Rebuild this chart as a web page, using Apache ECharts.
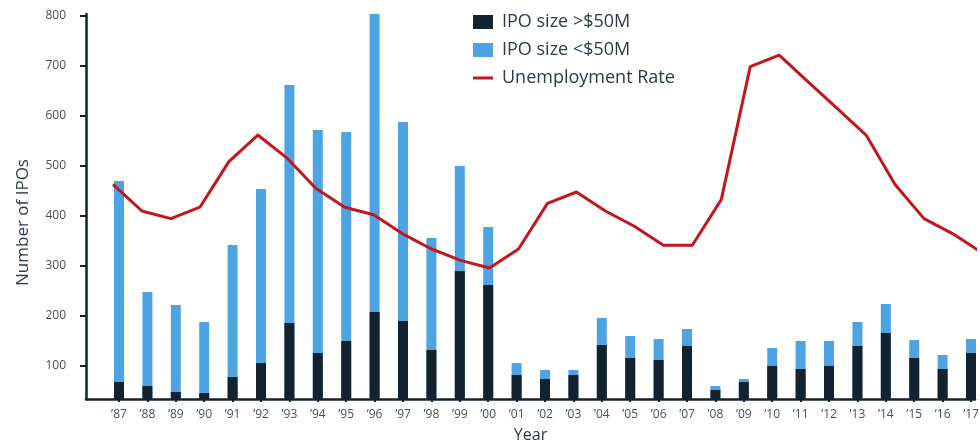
<!DOCTYPE html>
<html>
<head>
<meta charset="utf-8">
<script src="https://cdn.jsdelivr.net/npm/echarts@6/dist/echarts.min.js"></script>
<style>
  html, body { margin: 0; padding: 0; background: #fff; }
  #chart { width: 980px; height: 441px; }
</style>
</head>
<body>
<div id="chart"></div>
<script>
// ── IPO count vs unemployment ────────────────────────────────────────────────
const years      = ['’87','’88','’89','’90','’91','’92','’93','’94','’95','’96','’97','’98','’99','’00','’01',
                    '’02','’03','’04','’05','’06','’07','’08','’09','’10','’11','’12','’13','’14','’15','’16','’17'];
// >$50M IPOs (dark part of each bar)
const ipoLarge   = [68, 60, 48, 46, 78, 106, 186, 126, 150, 208, 190, 132, 290, 262, 82,
                    74, 82, 142, 116, 112, 140, 52, 68, 100, 94, 100, 140, 166, 116, 94, 126];
// top of each bar = all IPOs (the light part is what sticks out above the dark one)
const ipoTotal   = [470, 248, 222, 188, 342, 454, 662, 572, 568, 804, 588, 356, 500, 378, 106,
                    92, 92, 196, 160, 154, 174, 60, 74, 136, 150, 150, 188, 224, 152, 122, 154];
const unemployment = [6.2, 5.5, 5.3, 5.6, 6.8, 7.5, 6.9, 6.1, 5.6, 5.4, 4.9, 4.5, 4.2, 4.0, 4.5,
                      5.7, 6.0, 5.5, 5.1, 4.6, 4.6, 5.8, 9.3, 9.6, 8.9, 8.2, 7.5, 6.2, 5.3, 4.9, 4.4];
const yTicks     = [100, 200, 300, 400, 500, 600, 700, 800];

const DARK = '#13222f';
const BLUE = '#4ea4e3';
const RED  = '#c0181c';
const FONT = 'Open Sans';

const idx = years.map(function (_, i) { return i; });
const pair = function (arr) { return arr.map(function (v, i) { return [i, v]; }); };

const chart = echarts.init(document.getElementById('chart'), null, { renderer: 'canvas' });

chart.setOption({
  backgroundColor: '#ffffff',
  animation: false,
  textStyle: { fontFamily: FONT },
  // axis runs a touch past 800 so the tallest bar ('96) is not cut
  grid: { left: 86, right: 5, top: 14, bottom: 42, outerBoundsMode: 'none' },
  legend: {
    orient: 'vertical', left: 473, top: 13, padding: 0,
    itemWidth: 20, itemHeight: 14, itemGap: 10,
    textStyle: { fontFamily: FONT, fontSize: 18, color: '#2b3a4b', padding: [0, 0, 0, 4] },
    data: [
      { name: 'IPO size >$50M', icon: 'rect' },
      { name: 'IPO size <$50M', icon: 'rect' },
      // thin bar, padded so the path keeps its 20x14 box
      { name: 'Unemployment Rate', icon: 'path://M0,0L0.01,0M0,5.5L20,5.5L20,8.5L0,8.5ZM20,14L19.99,14' }
    ]
  },
  xAxis: [
    {
      // bars
      type: 'value', min: -1.162, max: 30.14,
      name: 'Year', nameLocation: 'middle', nameGap: 28,
      nameTextStyle: { fontFamily: FONT, fontSize: 16, color: '#2b3a4b' },
      axisLine: { show: true, onZero: false, lineStyle: { color: DARK, width: 2.5 } },
      axisTick: { show: true, customValues: idx, length: 3, lineStyle: { color: DARK, width: 2 } },
      axisLabel: {
        customValues: idx, margin: 10, fontSize: 12, color: '#4a4f55',
        formatter: function (v) { return years[Math.round(v)]; }
      },
      splitLine: { show: false }
    },
    {
      // line sits on a slightly wider spacing in the source
      type: 'value', min: -0.932, max: 29.76, show: false
    }
  ],
  yAxis: [
    {
      type: 'value', min: 34, max: 804,
      name: 'Number of IPOs', nameLocation: 'middle', nameGap: 54,
      nameTextStyle: { fontFamily: FONT, fontSize: 17, color: '#2b3a4b', padding: [0, 0, 0, -32] },
      axisLine: { show: true, onZero: false, lineStyle: { color: DARK, width: 2.5 } },
      axisTick: { show: true, customValues: yTicks, length: 6, lineStyle: { color: DARK, width: 2 } },
      axisLabel: { customValues: yTicks, margin: 20, fontSize: 12, color: '#4a4f55' },
      splitLine: { show: false }
    },
    { type: 'value', min: 0.5526, max: 10.685, show: false }
  ],
  series: [
    {
      name: 'IPO size <$50M', type: 'bar', barWidth: 10, barGap: '-100%',
      xAxisIndex: 0, yAxisIndex: 0, z: 2,
      itemStyle: { color: BLUE },
      data: pair(ipoTotal)
    },
    {
      name: 'IPO size >$50M', type: 'bar', barWidth: 10, barGap: '-100%',
      xAxisIndex: 0, yAxisIndex: 0, z: 3,
      itemStyle: { color: DARK },
      data: pair(ipoLarge)
    },
    {
      name: 'Unemployment Rate', type: 'line',
      xAxisIndex: 1, yAxisIndex: 1,
      symbol: 'none', clip: false, z: 5,
      lineStyle: { color: RED, width: 3 },
      itemStyle: { color: RED },
      data: pair(unemployment)
    }
  ]
});
</script>
</body>
</html>
